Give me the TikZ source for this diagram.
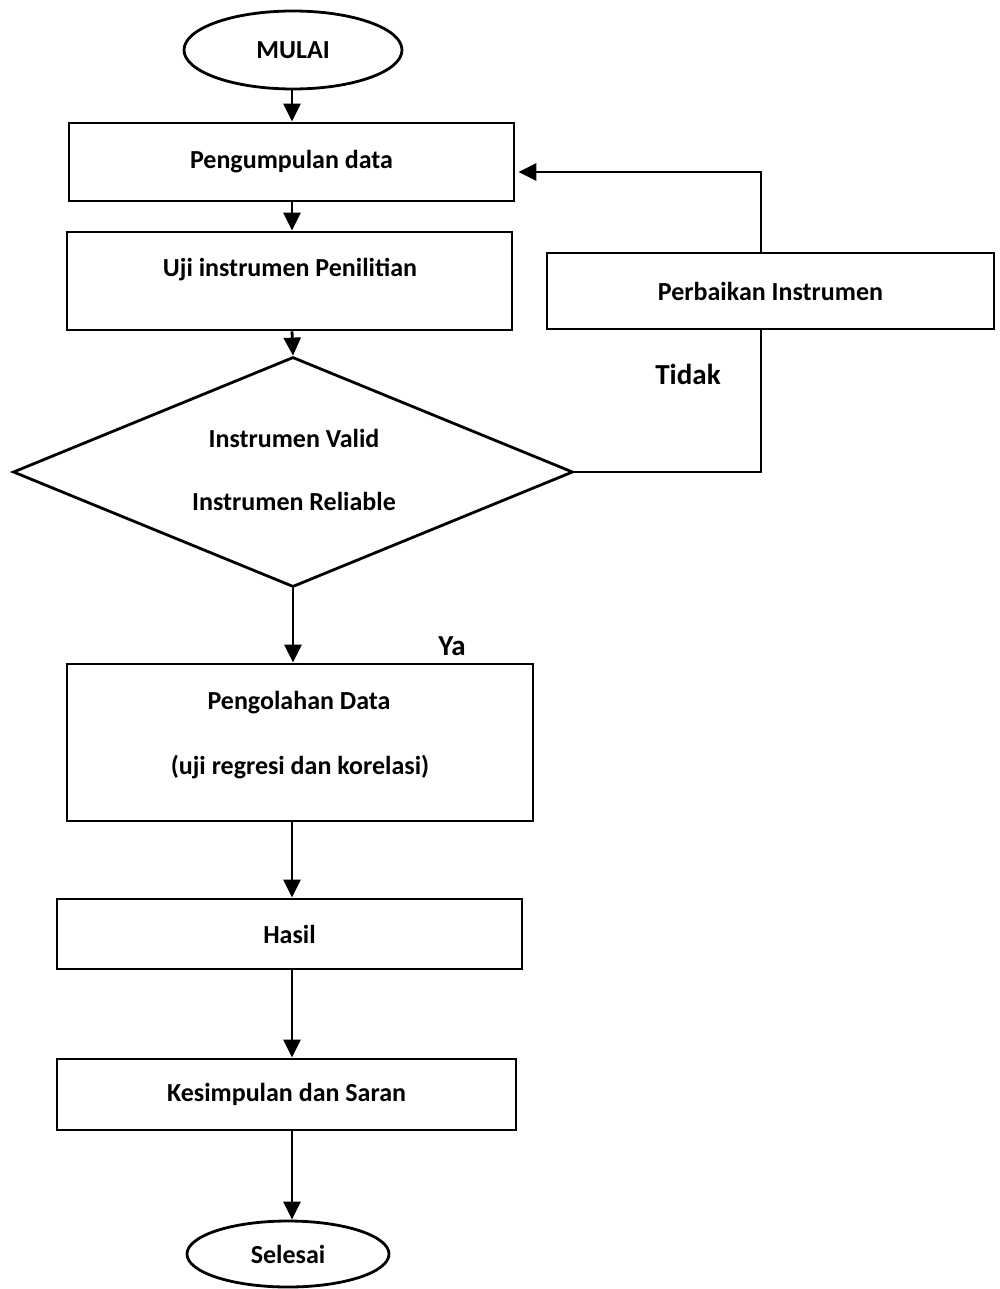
\documentclass[tikz,border=0pt]{standalone}
\usepackage{fontspec}
\setmainfont{Carlito}
\usetikzlibrary{shapes.geometric,arrows.meta,calc}
\tikzset{
  base/.style={draw, line width=2.8pt, inner sep=0pt, font=\fontsize{26}{31}\selectfont\bfseries},
  box/.style={base, rectangle},
  oval/.style={base, ellipse},
  decide/.style={base, diamond},
  txt/.style={inner sep=0pt, font=\fontsize{26}{31}\selectfont\bfseries},
  lbl/.style={inner sep=0pt, font=\fontsize{29}{34}\selectfont\bfseries},
  conn/.style={line width=2.8pt, -{Triangle[length=18pt,width=17pt]}},
  plain/.style={line width=2.8pt}
}
\begin{document}
\begin{tikzpicture}[x=1pt,y=-1pt]
\useasboundingbox (0,0) rectangle (999,1289);
% nodes
\node[oval, minimum width=218pt, minimum height=78pt] (start) at (293,50) {MULAI};
\node[box, minimum width=445pt, minimum height=78pt] (kumpul) at (291.5,162) {Pengumpulan data};
\node[box, minimum width=445pt, minimum height=98pt] (uji) at (289.5,281) {};
\node[txt] (ujitxt) at (290,270) {Uji instrumen Penilitian};
\node[box, minimum width=447pt, minimum height=76pt] (perb) at (770.5,291) {Perbaikan Instrumen};
\node[decide, minimum width=560pt, minimum height=230pt] (dia) at (293,472) {};
\node[txt] (valid) at (294,438) {Instrumen Valid};
\node[txt] (reli) at (294,501) {Instrumen Reliable};
\node[box, minimum width=466pt, minimum height=157pt] (olah) at (300,742.5) {};
\node[txt] (olah1) at (299,703) {Pengolahan Data};
\node[txt] (olah2) at (300,767) {(uji regresi dan korelasi)};
\node[box, minimum width=465pt, minimum height=70pt] (hasil) at (289.5,934) {Hasil};
\node[box, minimum width=459pt, minimum height=71pt] (simpul) at (286.5,1094.5) {Kesimpulan dan Saran};
\node[oval, minimum width=202pt, minimum height=66pt] (selesai) at (288,1254) {Selesai};
\node[lbl] (tidak) at (688,374) {Tidak};
\node[lbl] (ya) at (452,646) {Ya};
\coordinate (spine) at (292,0);
\coordinate (loopx) at (761,0);
\coordinate (loopy) at (0,172);
% connectors
\draw[conn] (start.south -| spine) -- (kumpul.north -| spine);
\draw[conn] (kumpul.south -| spine) -- (uji.north -| spine);
\draw[conn] (uji.south -| spine) -- (dia.north);
\draw[conn] (dia.south) -- (olah.north -| dia.south);
\draw[conn] (olah.south -| spine) -- (hasil.north -| spine);
\draw[conn] (hasil.south -| spine) -- (simpul.north -| spine);
\draw[conn] (simpul.south -| spine) -- (selesai.north -| spine);
\draw[plain] (dia.east) -| (perb.south -| loopx);
\draw[conn, shorten >=3pt] (perb.north -| loopx) |- (kumpul.east |- loopy);
\end{tikzpicture}
\end{document}
